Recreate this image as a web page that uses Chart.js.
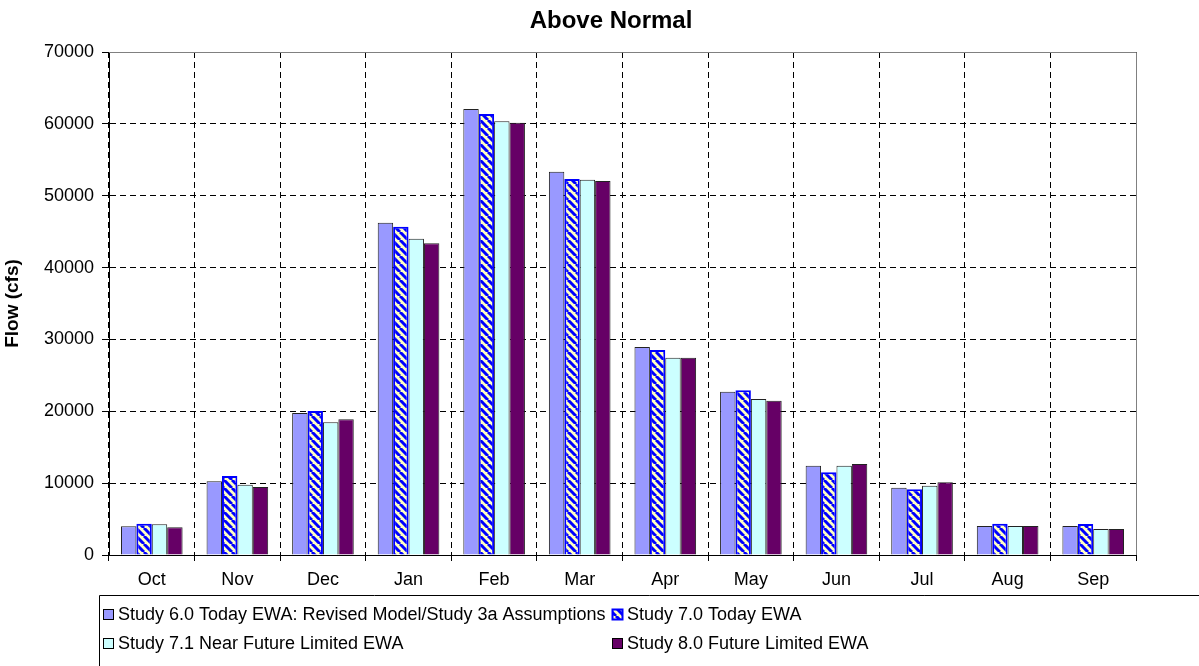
<!DOCTYPE html>
<html>
<head>
<meta charset="utf-8">
<script src="https://cdn.jsdelivr.net/npm/chart.js@4.4.1/dist/chart.umd.min.js"></script>
<style>
  html, body { margin: 0; padding: 0; background: #fff; }
  #wrap { width: 1199px; height: 666px; }
</style>
</head>
<body>
<div id="wrap"><canvas id="chart" width="1199" height="666"></canvas></div>
<script>
const chartTitle = 'Above Normal';
const months = ['Oct', 'Nov', 'Dec', 'Jan', 'Feb', 'Mar', 'Apr', 'May', 'Jun', 'Jul', 'Aug', 'Sep'];
const seriesNames = [
  'Study 6.0 Today EWA: Revised Model/Study 3a Assumptions',
  'Study 7.0 Today EWA',
  'Study 7.1 Near Future Limited EWA',
  'Study 8.0 Future Limited EWA',
];
const study60 = [4000, 10250, 19760, 46240, 62070, 53340, 28950, 22730, 12430, 9370, 4040, 4040];
const study70 = [4350, 10990, 20040, 45690, 61370, 52320, 28530, 22920, 11510, 9140, 4360, 4310];
const study71 = [4270, 9780, 18470, 44020, 60350, 52230, 27460, 21710, 12430, 9650, 4040, 3620];
const study80 = [3850, 9460, 18880, 43380, 60160, 52050, 27460, 21470, 12660, 10110, 4040, 3620];
const yMin = 0, yMax = 70000, yStep = 10000;

const FONT = "'Liberation Sans', Arial, sans-serif";

// yellow tile with blue "\" stripes, like the Excel hatch fill
function hatch() {
  const c = document.createElement('canvas');
  c.width = 8; c.height = 8;
  const g = c.getContext('2d');
  g.fillStyle = '#ffffc0';
  g.fillRect(0, 0, 8, 8);
  g.strokeStyle = '#0000ff';
  g.lineWidth = 3;
  for (const k of [-8, 0, 8]) {
    g.beginPath();
    g.moveTo(k, 0);
    g.lineTo(k + 8, 8);
    g.stroke();
  }
  return g.createPattern(c, 'repeat');
}
const stripes = hatch();

const fills = ['#9999ff', stripes, '#ccffff', '#660066'];
const edges = ['#222', '#0000ff', '#222', '#222'];
const widths = [1, 2, 1, 1];

// gray top/right plot border + title, Excel style
const framePlugin = {
  id: 'frame',
  afterDatasetsDraw(chart) {
    const { ctx, chartArea: a } = chart;
    ctx.save();
    ctx.strokeStyle = '#808080';
    ctx.lineWidth = 1;
    ctx.beginPath();
    ctx.moveTo(a.left, a.top + 0.5);
    ctx.lineTo(a.right + 0.5, a.top + 0.5);
    ctx.lineTo(a.right + 0.5, a.bottom);
    ctx.stroke();
    ctx.font = 'bold 24px ' + FONT;
    ctx.fillStyle = '#000';
    ctx.textAlign = 'center';
    ctx.textBaseline = 'middle';
    ctx.fillText(chartTitle, 611, 21);
    ctx.restore();
  },
};

const legendBox = {
  id: 'legendBox',
  afterDraw(chart) {
    const { ctx } = chart;
    const ds = chart.data.datasets;
    ctx.save();
    ctx.strokeStyle = '#000';
    ctx.lineWidth = 1;
    ctx.beginPath();
    ctx.moveTo(1210, 595.5);
    ctx.lineTo(99.5, 595.5);
    ctx.lineTo(99.5, 680);
    ctx.stroke();
    ctx.font = '18px ' + FONT;
    ctx.textBaseline = 'middle';
    const cols = [103, 612];
    const rows = [614, 643];
    ds.forEach((d, i) => {
      const x = cols[i % 2], y = rows[Math.floor(i / 2)];
      ctx.fillStyle = d.backgroundColor;
      ctx.fillRect(x, y - 5, 11, 11);
      ctx.strokeStyle = i === 1 ? '#0000ff' : '#000';
      ctx.lineWidth = i === 1 ? 2 : 1;
      ctx.strokeRect(x + 0.5, y - 4.5, 10, 10);
      ctx.fillStyle = '#000';
      ctx.fillText(d.label, x + 15, y + 1);
    });
    ctx.restore();
  },
};

const values = [study60, study70, study71, study80];

new Chart(document.getElementById('chart'), {
  type: 'bar',
  data: {
    labels: months,
    datasets: values.map((v, i) => ({
      label: seriesNames[i],
      data: v,
      backgroundColor: fills[i],
      borderColor: edges[i],
      borderWidth: widths[i],
      categoryPercentage: 0.72,
      barPercentage: 1.0,
    })),
  },
  options: {
    responsive: false,
    animation: false,
    layout: { padding: { left: 0, right: 63, top: 52, bottom: 76 } },
    plugins: {
      legend: { display: false },
      tooltip: { enabled: false },
      title: { display: false },
    },
    scales: {
      x: {
        afterFit: (s) => { s.height = 35; },
        grid: {
          offset: true,
          color: '#000',
          tickColor: '#000',
          tickLength: 6,
          tickBorderDash: [],
        },
        border: { color: '#000', width: 1, dash: [6, 4] },
        ticks: { color: '#000', font: { family: FONT, size: 18 }, padding: 8 },
      },
      y: {
        min: yMin,
        max: yMax,
        afterFit: (s) => { s.width = 109; },
        grid: {
          color: (c) => (c.tick && c.tick.value === yMax ? 'rgba(0,0,0,0)' : '#000'),
          tickColor: '#000',
          tickLength: 7,
          tickBorderDash: [],
        },
        border: { color: '#000', width: 1, dash: [6, 4] },
        ticks: {
          stepSize: yStep,
          color: '#000',
          font: { family: FONT, size: 18 },
          padding: 8,
          callback: (v) => String(v),
        },
        title: {
          display: true,
          text: 'Flow (cfs)',
          color: '#000',
          font: { family: FONT, size: 19, weight: 'bold' },
          padding: { top: 1, bottom: 4 },
        },
      },
    },
  },
  plugins: [framePlugin, legendBox],
});
</script>
</body>
</html>
